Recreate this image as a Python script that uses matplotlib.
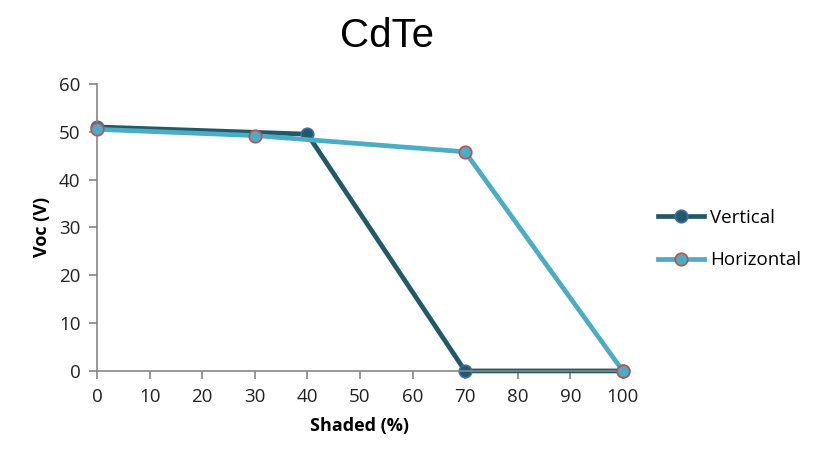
import matplotlib
matplotlib.use("Agg")
import matplotlib.pyplot as plt

# ==== data ====
vert_x = [0, 40, 70, 100]
vert_voc = [51.0, 49.5, 0.0, 0.0]
horz_x = [0, 30, 70, 100]
horz_voc = [50.5, 49.2, 45.8, 0.0]
x_ticks = list(range(0, 101, 10))
y_ticks = list(range(0, 61, 10))

plt.rcParams['font.family'] = ['Open Sans', 'DejaVu Sans']

fig = plt.figure(figsize=(8.32, 4.66), dpi=100)
ax = fig.add_axes([0.1166, 0.204, 0.632, 0.616])

ax.plot(vert_x, vert_voc, color='#215968', lw=3.4, marker='o', ms=9,
        mfc='#215968', mec='#3A6FB0', mew=1.2, label='Vertical', zorder=2)
ax.plot(horz_x, horz_voc, color='#4BACC6', lw=3.4, marker='o', ms=9,
        mfc='#4BACC6', mec='#C0504D', mew=1.2, label='Horizontal', zorder=3)

ax.set_xlim(0, 100)
ax.set_ylim(0, 60)
ax.set_xticks(x_ticks)
ax.set_yticks(y_ticks)
for s in ['top', 'right']:
    ax.spines[s].set_visible(False)
for s in ['left', 'bottom']:
    ax.spines[s].set_color('#868686')
    ax.spines[s].set_linewidth(1.2)
ax.tick_params(direction='out', length=6, color='#868686', width=1.2,
               labelsize=13.5, labelcolor='#222222', pad=6)
for ln in ax.lines:
    ln.set_clip_on(False)

ax.set_xlabel('Shaded (%)', fontsize=13, fontweight='bold', labelpad=8)
ax.set_ylabel('Voc (V)', fontsize=13, fontweight='bold', labelpad=6)
fig.text(0.465, 0.922, 'CdTe', fontsize=29, ha='center', va='center',
         family='Liberation Sans')

fig.legend(loc='center left', bbox_to_anchor=(0.77, 0.487), frameon=False,
           fontsize=13.5, handlelength=2.5, labelspacing=1.3, handletextpad=0.3)

fig.savefig('out.png', dpi=100)
